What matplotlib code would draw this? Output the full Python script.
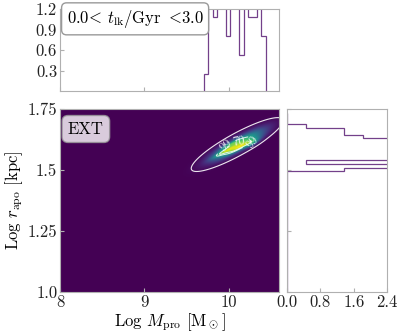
import numpy as np
import matplotlib
matplotlib.use("Agg")
import matplotlib.pyplot as plt

plt.rcParams['font.family'] = 'serif'
plt.rcParams['font.serif'] = ['cmr10']
plt.rcParams['mathtext.fontset'] = 'cm'
plt.rcParams['axes.formatter.use_mathtext'] = True

# --- dane ---
# histogram gorny (Log M_pro), gestosc
m_edges = np.linspace(9.706, 10.437, 15)
m_dens = [0.25, 1.9, 1.08, 2.6, 3.1, 0.80, 2.9, 2.2, 0.53, 2.5, 1.08, 1.08, 1.6, 0.80]

# histogram prawy (Log r_apo), gestosc
r_edges = np.linspace(1.0, 1.735, 50)
r_dens = [0.0] * 33 + [1.37, 3.2, 0.46, 4.1, 6.4, 8.2, 7.3, 5.5, 3.6, 1.83, 1.37, 1.37, 0.46, 0.0, 0.0, 0.0]

# skladowe gestosci 2D: srodek, szerokosc w x, nachylenie, rozrzut poprzeczny, waga
c_x = [10.10, 9.93, 10.15, 10.28, 10.02]
c_y = [1.605, 1.573, 1.598, 1.611, 1.607]
c_sx = [0.20, 0.09, 0.12, 0.06, 0.07]
c_slope = [0.18, 0.18, 0.18, 0.18, 0.18]
c_sperp = [0.019, 0.006, 0.007, 0.007, 0.005]
c_w = [1.0, 0.4, 0.5, 0.4, 0.3]

hist_color = '#73408a'
spine_color = '#b0b0b0'

fig = plt.figure(figsize=(3.99, 3.32), dpi=100)
ax = fig.add_axes([0.1504, 0.1214, 0.5496, 0.5494])
ax_top = fig.add_axes([0.1504, 0.7259, 0.5496, 0.2470])
ax_r = fig.add_axes([0.7185, 0.1214, 0.2522, 0.5494])

# --- mapa gestosci ---
gx = np.linspace(8, 10.6, 520)
gy = np.linspace(1.0, 1.75, 300)
X, Y = np.meshgrid(gx, gy)
Z = np.zeros_like(X)
for x0, y0, sx, a, sp, w in zip(c_x, c_y, c_sx, c_slope, c_sperp, c_w):
    u = (X - x0) / sx
    v = (Y - y0 - a * (X - x0)) / sp
    Z += w * np.exp(-0.5 * (u**2 + v**2))
Z = Z / Z.max()

ax.imshow(Z, origin='lower', extent=[8, 10.6, 1.0, 1.75], aspect='auto',
          cmap='viridis', interpolation='bilinear')
ax.contour(X, Y, Z, levels=[0.02], colors='white', linewidths=0.8, alpha=0.9)
cs = ax.contour(X, Y, Z, levels=[0.6, 0.76], colors='white', linewidths=0.7, alpha=0.85)
ax.clabel(cs, fmt=lambda v: '99' if v < 0.68 else '70', fontsize=9, colors='white',
          manual=[(9.95, 1.605), (10.12, 1.618), (10.34, 1.59)])
ax.set_xlim(8, 10.6)
ax.set_ylim(1.0, 1.75)
ax.set_xticks([8, 9, 10])
ax.set_xticklabels(['8', '9', '10'])
ax.set_yticks([1.0, 1.25, 1.5, 1.75])
ax.set_yticklabels(['1.0', '1.25', '1.5', '1.75'])
ax.set_xlabel(r'Log $M_{\rm pro}$ [${\rm M}_\odot$]', fontsize=12, labelpad=1)
ax.set_ylabel(r'Log $r_{\rm apo}$ [kpc]', fontsize=12, labelpad=2)
ax.text(0.118, 0.892, 'EXT', transform=ax.transAxes, fontsize=12,
        ha='center', va='center',
        bbox=dict(boxstyle='round,pad=0.35', facecolor='white', alpha=0.8, edgecolor='#999999'))

# --- histogram gorny ---
ax_top.stairs(m_dens, m_edges, color=hist_color, lw=0.9)
ax_top.set_xlim(8, 10.6)
ax_top.set_ylim(0, 1.2)
ax_top.set_xticks([8, 9, 10])
ax_top.set_xticklabels([])
ax_top.set_yticks([0.3, 0.6, 0.9, 1.2])
ax_top.set_yticklabels(['0.3', '0.6', '0.9', '1.2'])
ax_top.text(0.03, 0.88, r'$0.0\!<\,t_{\rm lk}/{\rm Gyr}\ <\!3.0$', transform=ax_top.transAxes,
            fontsize=12, ha='left', va='center', clip_on=False,
            bbox=dict(boxstyle='round,pad=0.3', facecolor='white', edgecolor='#999999'))

# --- histogram prawy ---
ax_r.stairs(r_dens, r_edges, orientation='horizontal', color=hist_color, lw=0.9)
ax_r.set_ylim(1.0, 1.75)
ax_r.set_xlim(0, 2.4)
ax_r.set_xticks([0.0, 0.8, 1.6, 2.4])
ax_r.set_xticklabels(['0.0', '0.8', '1.6', '2.4'])
ax_r.set_yticks([1.0, 1.25, 1.5, 1.75])
ax_r.set_yticklabels([])

for a in (ax, ax_top, ax_r):
    for s in a.spines.values():
        s.set_color(spine_color)
        s.set_linewidth(0.8)
    a.tick_params(direction='in', length=3, color=spine_color, labelsize=12, pad=2,
                  labelcolor='#222222')

fig.savefig('out.png', dpi=100)
